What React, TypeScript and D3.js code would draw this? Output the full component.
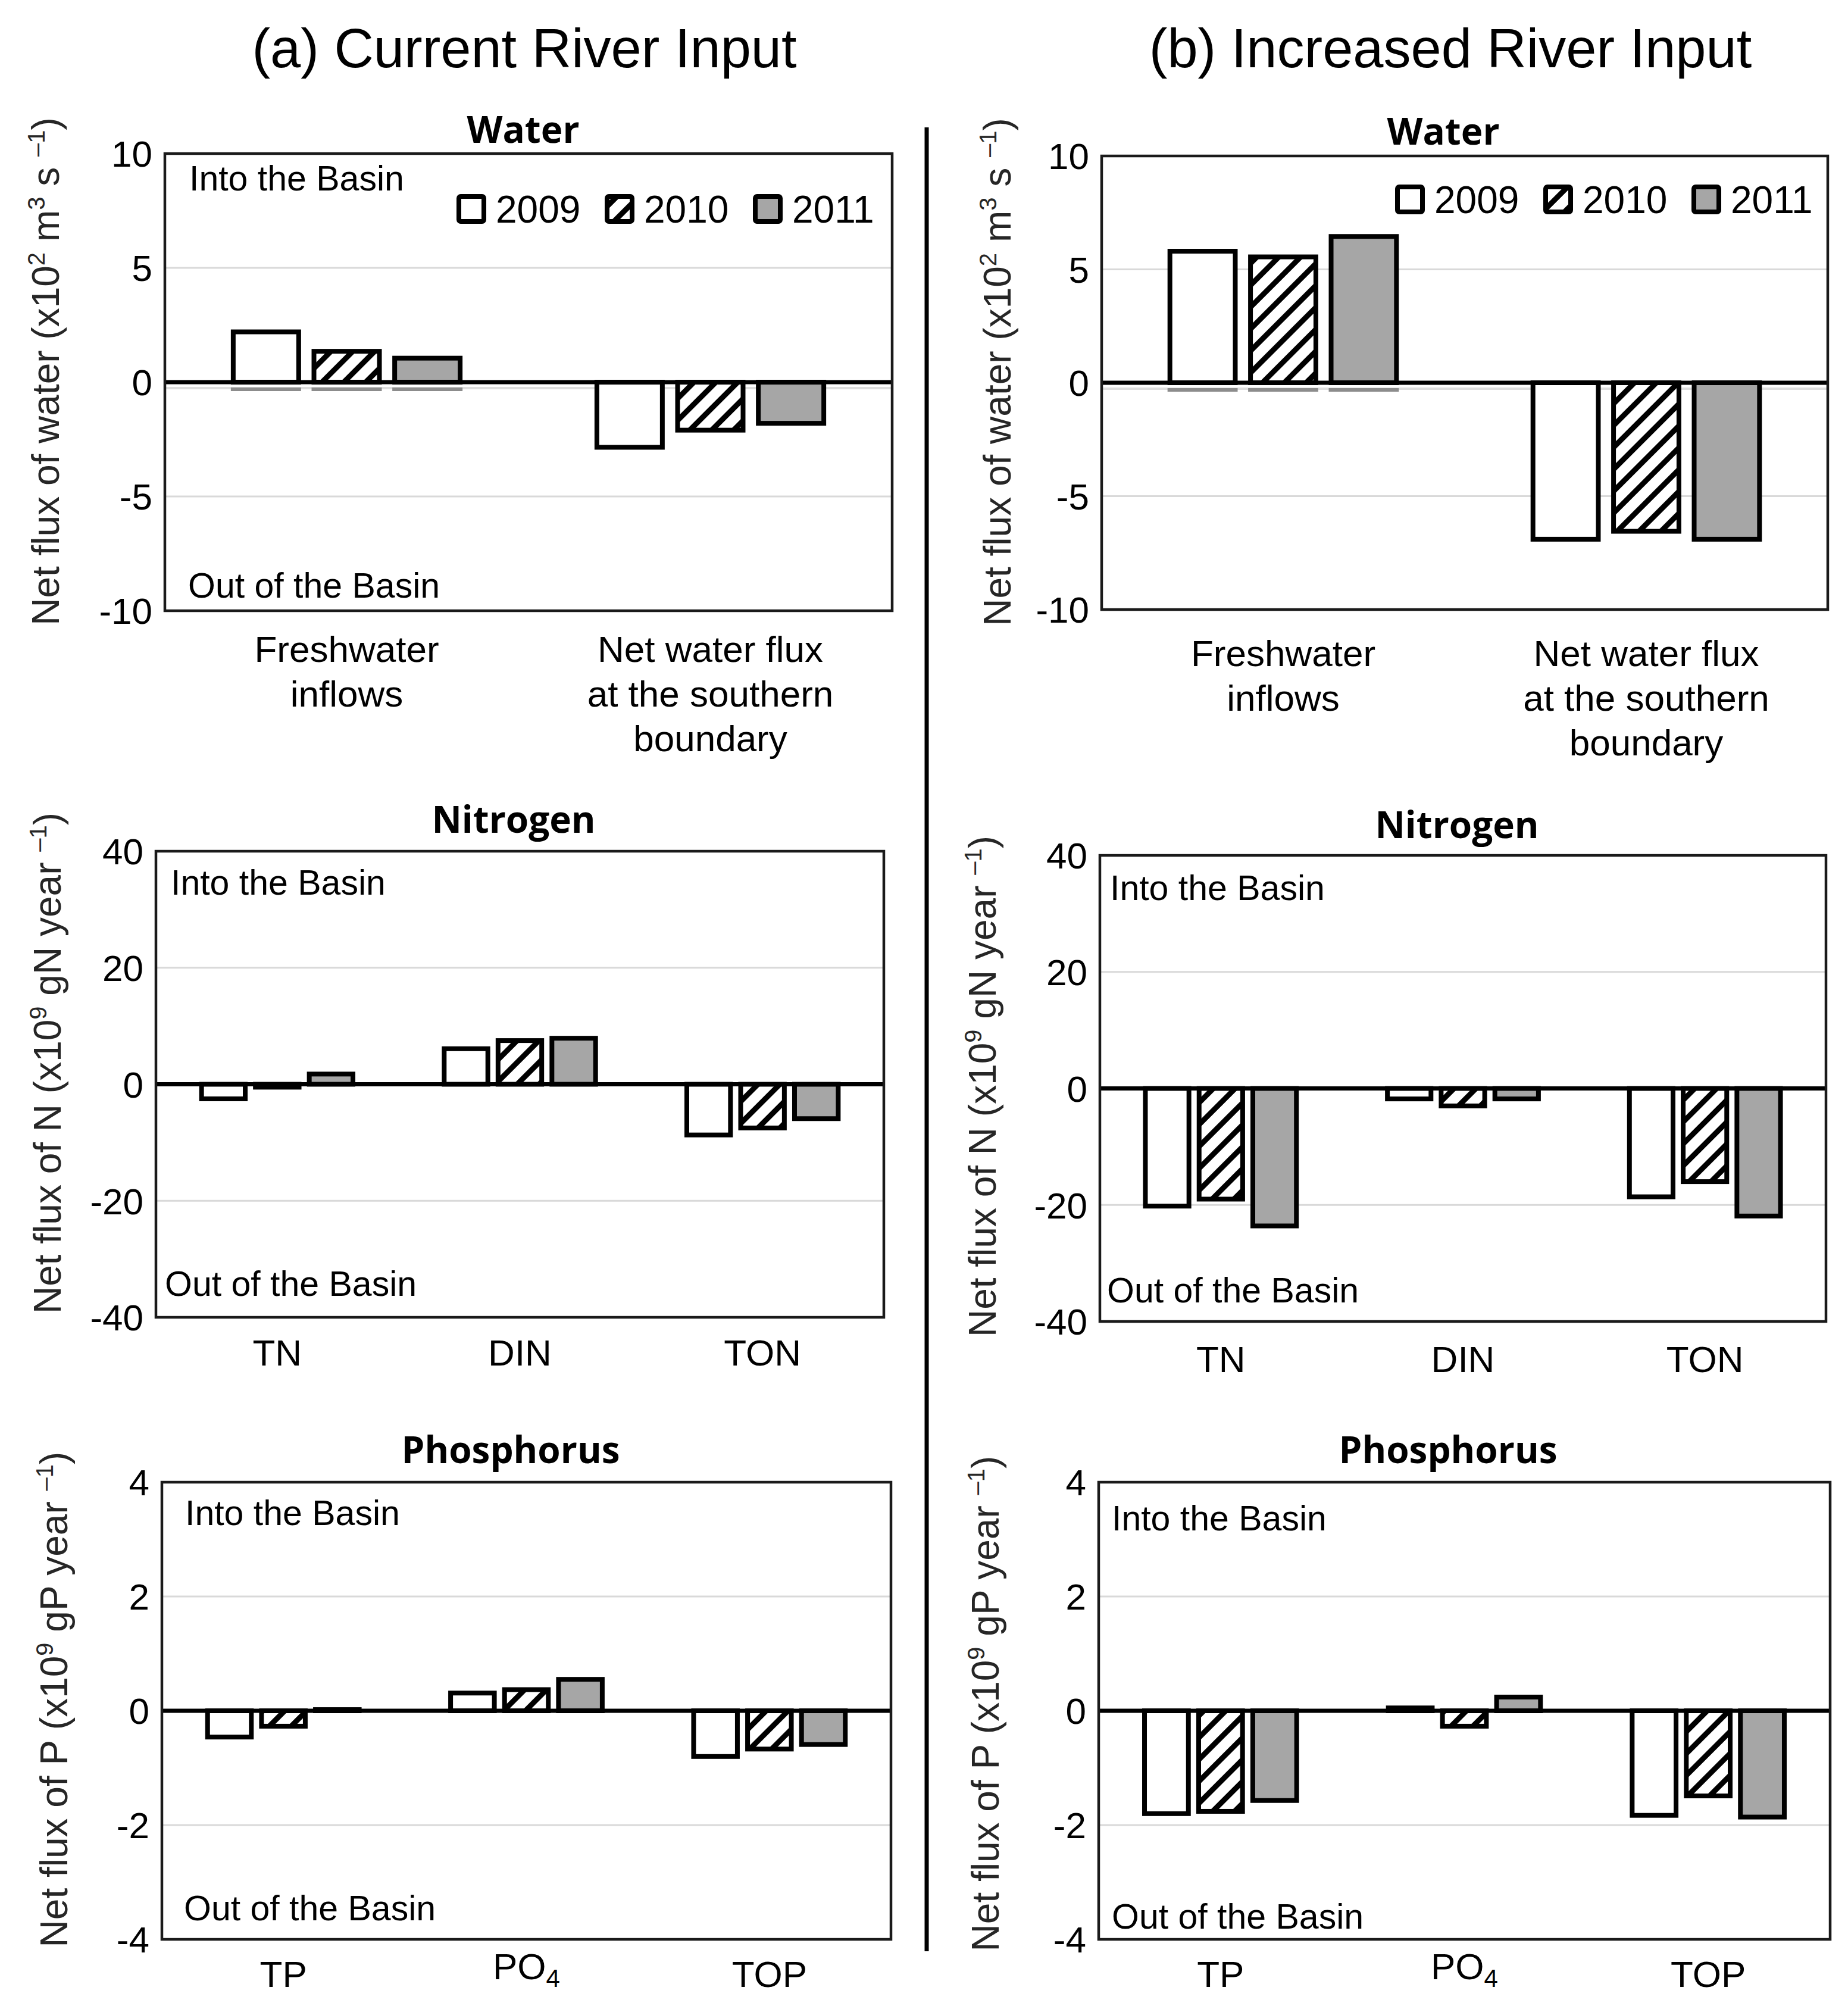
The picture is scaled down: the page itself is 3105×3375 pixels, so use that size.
import React from 'react';
import * as d3 from 'd3';

// ---------- DATA ----------
const years = ['2009', '2010', '2011'];

const waterCategories = [['Freshwater', 'inflows'], ['Net water flux', 'at the southern', 'boundary']];
const nitrogenCategories = [['TN'], ['DIN'], ['TON']];
const phosphorusCategories = [['TP'], ['PO4'], ['TOP']];

const waterTicks = [-10, -5, 0, 5, 10];
const nitrogenTicks = [-40, -20, 0, 20, 40];
const phosphorusTicks = [-4, -2, 0, 2, 4];

// (a) Current River Input
const waterA2009 = [2.2, -2.85];
const waterA2010 = [1.35, -2.1];
const waterA2011 = [1.05, -1.8];
const nitrogenA2009 = [-2.5, 6.1, -8.7];
const nitrogenA2010 = [-0.5, 7.5, -7.5];
const nitrogenA2011 = [1.75, 7.9, -5.9];
const phosphorusA2009 = [-0.46, 0.31, -0.8];
const phosphorusA2010 = [-0.27, 0.37, -0.67];
const phosphorusA2011 = [0.02, 0.55, -0.59];

// (b) Increased River Input
const waterB2009 = [5.8, -6.9];
const waterB2010 = [5.55, -6.55];
const waterB2011 = [6.45, -6.9];
const nitrogenB2009 = [-20.2, -1.8, -18.6];
const nitrogenB2010 = [-19.0, -3.0, -16.0];
const nitrogenB2011 = [-23.6, -1.8, -21.9];
const phosphorusB2009 = [-1.8, 0.05, -1.83];
const phosphorusB2010 = [-1.76, -0.27, -1.49];
const phosphorusB2011 = [-1.57, 0.24, -1.86];

// ---------- STYLE ----------
const ARIAL = "'Liberation Sans', Arial, sans-serif";
const BOLD = "'Open Sans', 'Noto Sans', sans-serif";
const fills = ['#ffffff', 'url(#hatch)', '#a6a6a6'];

type YLab = { pre: string; sup1: string; mid: string; sup2: string };

const waterYLabel: YLab = { pre: 'Net flux of water (x10', sup1: '2', mid: ' m', sup2: '3' };

function YLabel({ x, y, kind }: { x: number; y: number; kind: 'water' | 'N' | 'P' }) {
  const fs = 64;
  const ss = 40;
  const up = -24;
  if (kind === 'water') {
    return (
      <text transform={`translate(${x},${y}) rotate(-90)`} textAnchor="middle" fontFamily={ARIAL} fontSize={fs} fill="#262626">
        {waterYLabel.pre}
        <tspan dy={up} fontSize={ss}>{waterYLabel.sup1}</tspan>
        <tspan dy={-up}>{waterYLabel.mid}</tspan>
        <tspan dy={up} fontSize={ss}>{waterYLabel.sup2}</tspan>
        <tspan dy={-up}>{' s '}</tspan>
        <tspan dy={up} fontSize={ss}>{'\u20131'}</tspan>
        <tspan dy={-up}>)</tspan>
      </text>
    );
  }
  const el = kind === 'N' ? 'N' : 'P';
  return (
    <text transform={`translate(${x},${y}) rotate(-90)`} textAnchor="middle" fontFamily={ARIAL} fontSize={fs} fill="#262626">
      {`Net flux of ${el} (x10`}
      <tspan dy={up} fontSize={ss}>9</tspan>
      <tspan dy={-up}>{` g${el} year `}</tspan>
      <tspan dy={up} fontSize={ss}>{'\u20131'}</tspan>
      <tspan dy={-up}>)</tspan>
    </text>
  );
}

type PanelProps = {
  left: number; right: number; top: number; bottom: number;
  ticks: number[];
  categories: string[][];
  series: number[][];
  title: string; titleX: number; titleY: number;
  yLabel: { x: number; y: number; kind: 'water' | 'N' | 'P' };
  into?: [number, number];
  out?: [number, number];
  legend?: { x: number; y: number };
  catBaseline: number;
  water?: boolean;
};

function Panel(p: PanelProps) {
  const dom = d3.extent(p.ticks) as [number, number];
  const y = d3.scaleLinear().domain(dom).range([p.bottom, p.top]);
  const x = d3.scaleBand<number>().domain(p.categories.map((_, i) => i)).range([p.left, p.right]);
  const band = x.bandwidth();
  const pitch = band * 0.222;
  const bw = band * 0.18;
  const y0 = y(0);
  const sw = 8;

  return (
    <g>
      {/* gridlines */}
      {p.ticks.filter(t => t !== 0 && t !== dom[0] && t !== dom[1]).map(t => (
        <line key={t} x1={p.left} x2={p.right} y1={y(t)} y2={y(t)} stroke="#d9d9d9" strokeWidth={3} />
      ))}
      {p.water && <line x1={p.left} x2={p.right} y1={y0 + 10} y2={y0 + 10} stroke="#dedede" strokeWidth={4} />}
      {/* bars */}
      {p.series.map((vals, si) => vals.map((v, ci) => {
        const cx = (x(ci) as number) + band / 2 + (si - 1) * pitch;
        const ya = y(Math.max(v, 0));
        const yb = y(Math.min(v, 0));
        return (
          <g key={`${si}-${ci}`}>
            {p.water && v > 0 && (
              <rect x={cx - bw / 2 - sw / 2} y={y0 + 9} width={bw + sw} height={6} fill="#8c8c8c" />
            )}
            <rect x={cx - bw / 2} y={ya} width={bw} height={Math.max(yb - ya, 0.5)}
              fill={fills[si]} stroke="#000" strokeWidth={sw} />
          </g>
        );
      }))}
      {/* zero line */}
      <line x1={p.left} x2={p.right} y1={y0} y2={y0} stroke="#000" strokeWidth={7} />
      {/* box */}
      <rect x={p.left} y={p.top} width={p.right - p.left} height={p.bottom - p.top} fill="none" stroke="#1a1a1a" strokeWidth={4.5} />
      {/* tick labels */}
      {p.ticks.map(t => (
        <text key={t} x={p.left - 21} y={y(t)} dy="0.36em" textAnchor="end" fontFamily={ARIAL} fontSize={62} fill="#000">
          {String(t)}
        </text>
      ))}
      {/* category labels */}
      {p.categories.map((lines, ci) => {
        const cx = (x(ci) as number) + band / 2;
        if (lines[0] === 'PO4') {
          return (
            <text key={ci} x={cx} y={p.catBaseline - 13} textAnchor="middle" fontFamily={ARIAL} fontSize={62}>
              PO<tspan dy={13} fontSize={42}>4</tspan>
            </text>
          );
        }
        return (
          <text key={ci} textAnchor="middle" fontFamily={ARIAL} fontSize={62} fill="#000">
            {lines.map((l, li) => (
              <tspan key={li} x={cx} y={p.catBaseline + li * 75}>{l}</tspan>
            ))}
          </text>
        );
      })}
      {/* title */}
      <text x={p.titleX} y={p.titleY} textAnchor="middle" fontFamily={BOLD} fontWeight={700} fontSize={62}>{p.title}</text>
      <YLabel {...p.yLabel} />
      {p.into && <text x={p.into[0]} y={p.into[1]} fontFamily={ARIAL} fontSize={59}>Into the Basin</text>}
      {p.out && <text x={p.out[0]} y={p.out[1]} fontFamily={ARIAL} fontSize={59}>Out of the Basin</text>}
      {p.legend && years.map((yr, i) => {
        const lx = p.legend!.x + i * 249;
        return (
          <g key={yr}>
            <rect x={lx + 4} y={p.legend!.y + 4} width={42} height={42} rx={3} fill={fills[i]} stroke="#000" strokeWidth={8} />
            <text x={lx + 66} y={p.legend!.y + 48} fontFamily={ARIAL} fontSize={64}>{yr}</text>
          </g>
        );
      })}
    </g>
  );
}

export default function App() {
  return (
    <div style={{ position: 'absolute', left: 0, top: 0 }}>
      <svg width={3105} height={3375} viewBox="0 0 3105 3375" style={{ display: 'block', background: '#fff' }}>
        <defs>
          <pattern id="hatch" patternUnits="userSpaceOnUse" width={26} height={26} patternTransform="rotate(-45)">
            <rect width={26} height={26} fill="#fff" />
            <rect width={26} height={9} fill="#000" />
          </pattern>
        </defs>
        <rect width={3105} height={3375} fill="#fff" />

        <text x={881} y={113} textAnchor="middle" fontFamily={ARIAL} fontSize={92}>(a) Current River Input</text>
        <text x={2437} y={113} textAnchor="middle" fontFamily={ARIAL} fontSize={92}>(b) Increased River Input</text>

        <line x1={1557} x2={1557} y1={214} y2={3278} stroke="#000" strokeWidth={7} />

        {/* Water */}
        <Panel left={277} right={1499} top={258} bottom={1026} ticks={waterTicks} categories={waterCategories}
          series={[waterA2009, waterA2010, waterA2011]} title="Water" titleX={879} titleY={240}
          yLabel={{ x: 99, y: 624, kind: 'water' }} into={[318, 320]} out={[316, 1004]}
          legend={{ x: 767, y: 326 }} catBaseline={1112} water />
        <Panel left={1851} right={3071} top={262} bottom={1024} ticks={waterTicks} categories={waterCategories}
          series={[waterB2009, waterB2010, waterB2011]} title="Water" titleX={2425} titleY={243}
          yLabel={{ x: 1698, y: 625, kind: 'water' }}
          legend={{ x: 2344, y: 310 }} catBaseline={1119} water />

        {/* Nitrogen */}
        <Panel left={262} right={1485} top={1430} bottom={2213} ticks={nitrogenTicks} categories={nitrogenCategories}
          series={[nitrogenA2009, nitrogenA2010, nitrogenA2011]} title="Nitrogen" titleX={863} titleY={1399}
          yLabel={{ x: 102, y: 1786, kind: 'N' }} into={[287, 1503]} out={[277, 2177]} catBaseline={2294} />
        <Panel left={1848} right={3068} top={1437} bottom={2220} ticks={nitrogenTicks} categories={nitrogenCategories}
          series={[nitrogenB2009, nitrogenB2010, nitrogenB2011]} title="Nitrogen" titleX={2448} titleY={1408}
          yLabel={{ x: 1673, y: 1825, kind: 'N' }} into={[1865, 1512]} out={[1860, 2188]} catBaseline={2305} />

        {/* Phosphorus */}
        <Panel left={272} right={1497} top={2490} bottom={3258} ticks={phosphorusTicks} categories={phosphorusCategories}
          series={[phosphorusA2009, phosphorusA2010, phosphorusA2011]} title="Phosphorus" titleX={858} titleY={2458}
          yLabel={{ x: 113, y: 2855, kind: 'P' }} into={[311, 2562]} out={[309, 3226]} catBaseline={3338} />
        <Panel left={1846} right={3075} top={2490} bottom={3258} ticks={phosphorusTicks} categories={phosphorusCategories}
          series={[phosphorusB2009, phosphorusB2010, phosphorusB2011]} title="Phosphorus" titleX={2433} titleY={2458}
          yLabel={{ x: 1678, y: 2862, kind: 'P' }} into={[1868, 2571]} out={[1868, 3240]} catBaseline={3338} />
      </svg>
    </div>
  );
}
